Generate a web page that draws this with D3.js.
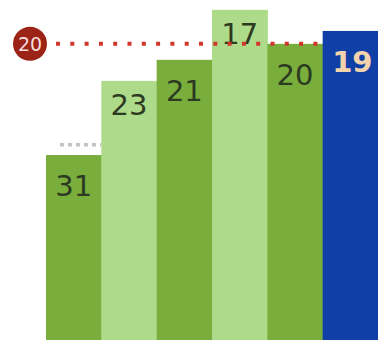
<!DOCTYPE html>
<html>
<head>
<meta charset="utf-8">
<script src="https://cdn.jsdelivr.net/npm/d3@7"></script>
<style>
  body { margin: 0; background: #fff; }
  svg { display: block; }
</style>
</head>
<body>
<script>
// data
var categories = ["a", "b", "c", "d", "e", "f"];
var values = [54.4, 76.2, 82.4, 97.1, 87.1, 90.9];
var ranks = [31, 23, 21, 17, 20, 19];
var kinds = ["dark", "light", "dark", "light", "dark", "focus"];
var refValue = 87.1;
var refLabel = "20";
var prevValue = 57.4;

var width = 378, height = 340;

var svg = d3.select("body").append("svg")
  .attr("width", width)
  .attr("height", height);

// scales
var x = d3.scaleBand()
  .domain(categories)
  .range([46, width])
  .padding(0);

var y = d3.scaleLinear()
  .domain([0, 100])
  .range([height, 0]);

var fillFor = {dark: "#7aae3c", light: "#addb89", focus: "#0f3fa7"};
var textFor = {dark: "#2c3a22", light: "#2c3a22", focus: "#f2d3ad"};
var offsetFor = {dark: 41, light: 34, focus: 41};

var rows = categories.map(function(c, i) {
  return {cat: c, value: values[i], rank: ranks[i], kind: kinds[i]};
});

// bars
svg.selectAll(".bar")
  .data(rows)
  .enter().append("rect")
  .attr("class", "bar")
  .attr("x", function(d) { return x(d.cat); })
  .attr("width", x.bandwidth() + 0.5)
  .attr("y", function(d) { return y(d.value); })
  .attr("height", function(d) { return y(0) - y(d.value); })
  .style("fill", function(d) { return fillFor[d.kind]; });

// previous marker over first bar
svg.append("line")
  .attr("x1", x(categories[0]) + 14)
  .attr("x2", x(categories[0]) + x.bandwidth())
  .attr("y1", y(prevValue))
  .attr("y2", y(prevValue))
  .style("stroke", "#c4c4c4")
  .style("stroke-width", 3.5)
  .style("stroke-dasharray", "4,4");

// rank labels
svg.selectAll(".lbl")
  .data(rows)
  .enter().append("text")
  .attr("class", "lbl")
  .attr("x", function(d) { return x(d.cat) + x.bandwidth() / 2 + (d.kind == "focus" ? 2 : 0); })
  .attr("y", function(d) { return y(d.value) + offsetFor[d.kind]; })
  .attr("text-anchor", "middle")
  .style("font-family", "'DejaVu Sans', Verdana, sans-serif")
  .style("font-size", "29px")
  .style("font-weight", function(d) { return d.kind == "focus" ? "bold" : "normal"; })
  .style("fill", function(d) { return textFor[d.kind]; })
  .text(function(d) { return d.rank; });

// reference line
svg.append("line")
  .attr("x1", 56)
  .attr("x2", x(categories[categories.length - 1]))
  .attr("y1", y(refValue))
  .attr("y2", y(refValue))
  .style("stroke", "#d0362c")
  .style("stroke-width", 4)
  .style("stroke-dasharray", "4,10.3");

svg.append("circle")
  .attr("cx", 30)
  .attr("cy", y(refValue))
  .attr("r", 17)
  .style("fill", "#9c2416");

svg.append("text")
  .attr("x", 30)
  .attr("y", y(refValue) + 7)
  .attr("text-anchor", "middle")
  .style("font-family", "'DejaVu Sans', Verdana, sans-serif")
  .style("font-size", "19px")
  .style("fill", "#f4dede")
  .text(refLabel);
</script>
</body>
</html>
